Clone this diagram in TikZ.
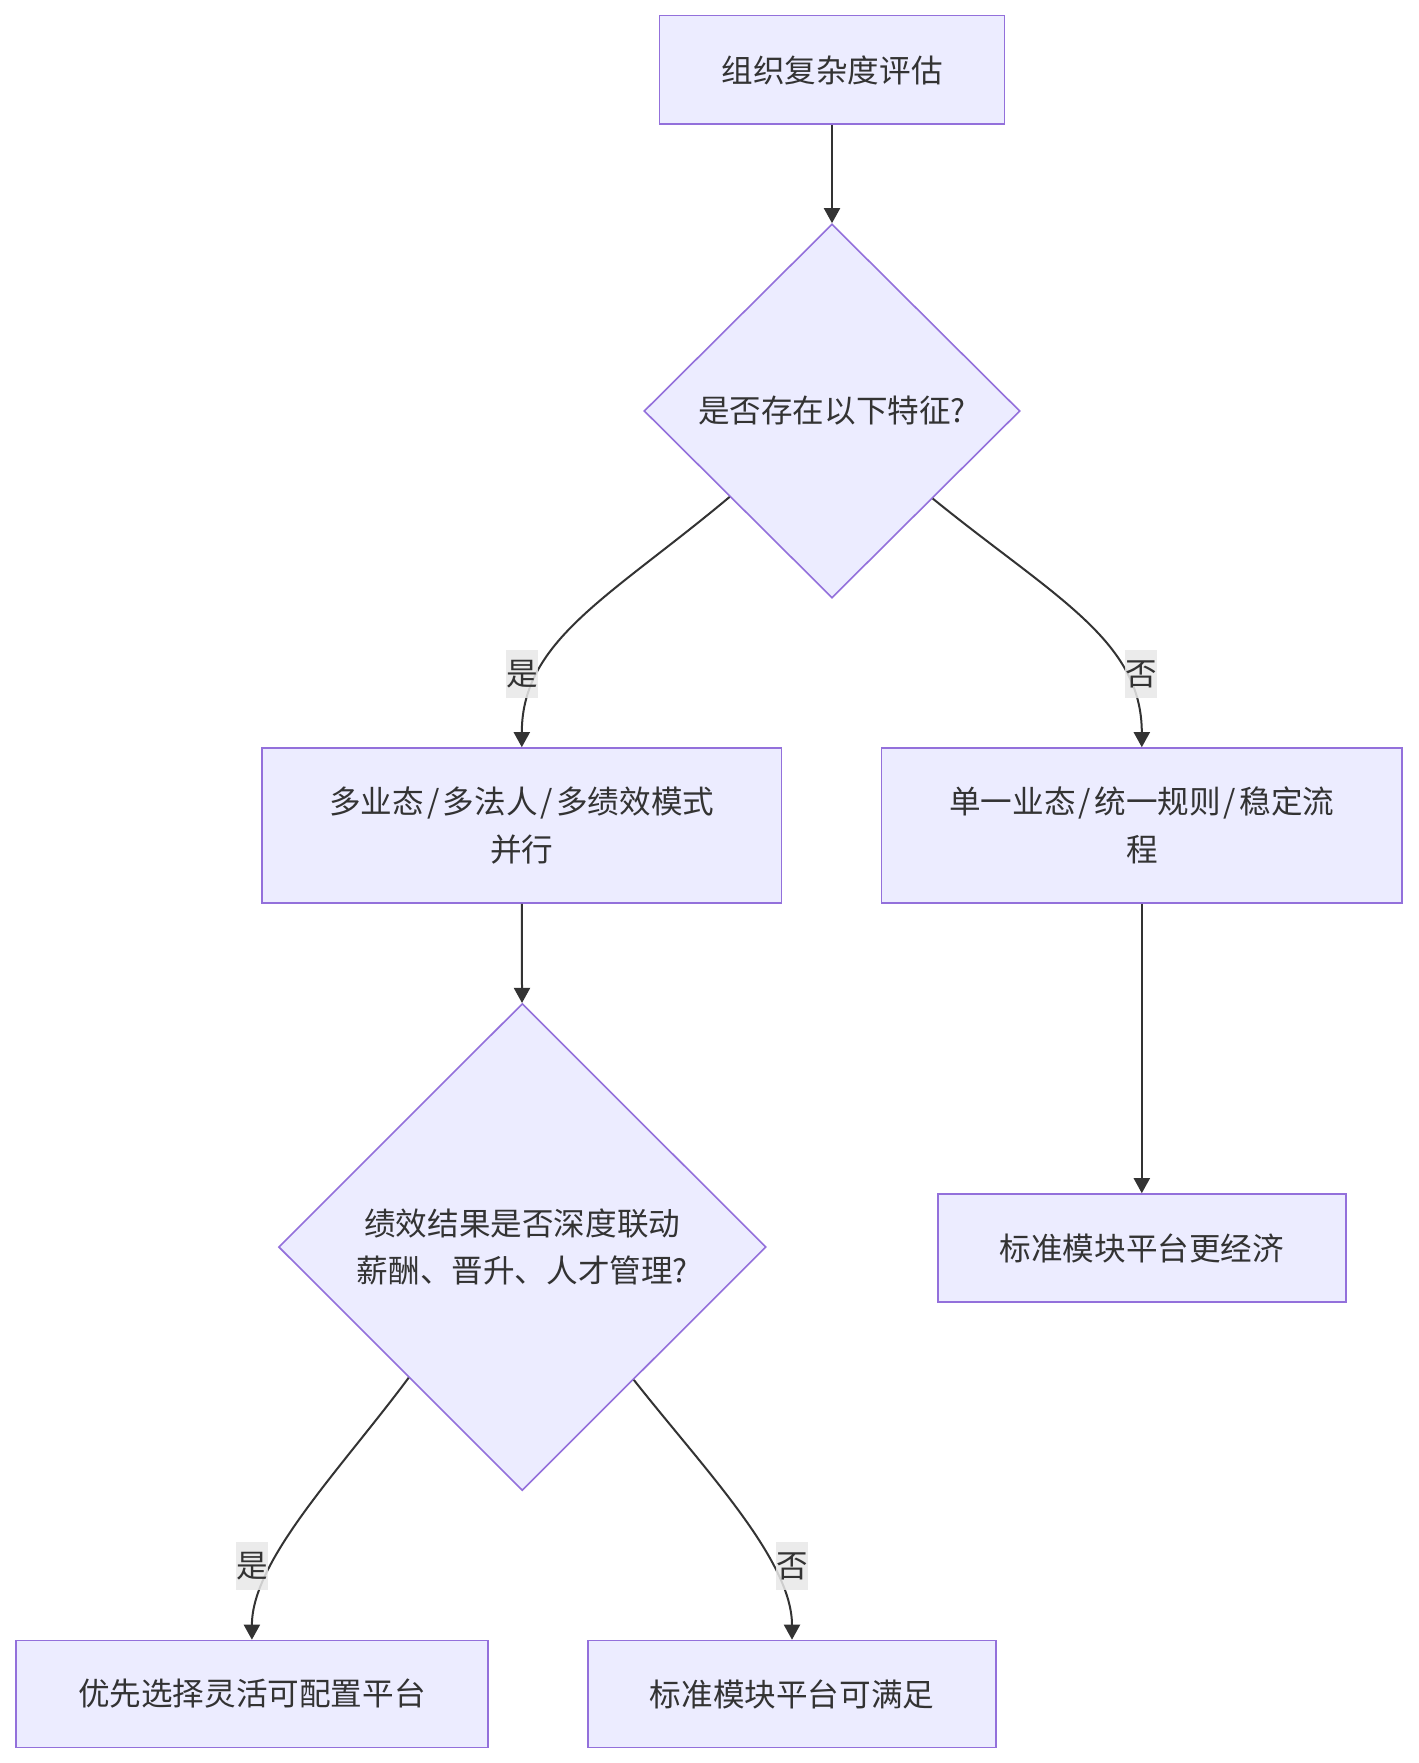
\documentclass[tikz,border=0pt]{standalone}
\usepackage{fontspec}
\newfontfamily\cjk{Noto Sans CJK SC}
\usetikzlibrary{shapes.geometric,arrows.meta}
\definecolor{nodefill}{HTML}{ECECFF}
\definecolor{nodeline}{HTML}{9370DB}
\definecolor{edgecol}{HTML}{333333}
\definecolor{labelbg}{HTML}{E8E8E8}
\newcommand\slashsep{\hspace{0.1em}/\hspace{0.1em}}
\begin{document}
\begin{tikzpicture}[x=1pt,y=-1pt,
 every node/.style={font=\cjk\fontsize{31.6}{47.5}\selectfont, text=edgecol},
 box/.style={draw=nodeline, fill=nodefill, line width=1.6pt, align=center, inner sep=0pt},
 decision/.style={diamond, draw=nodeline, fill=nodefill, line width=1.6pt, align=center, inner sep=0pt, aspect=1},
 flow/.style={draw=edgecol, line width=2pt, -{Triangle[width=16pt,length=15pt]}},
 elabel/.style={fill=labelbg, fill opacity=0.85, text opacity=1, inner sep=0pt, minimum width=32pt, minimum height=48pt}]

\fill[white] (0,0) rectangle (1418,1763);
\useasboundingbox (0,0) rectangle (1418,1763);

\node[box, minimum width=344.7pt, minimum height=108.6pt] (a) at (832,70) {组织复杂度评估};
\node[decision, minimum width=376pt, minimum height=374pt] (b) at (832,411) {是否存在以下特征?};
\node[box, minimum width=519.5pt, minimum height=155pt] (c) at (521.8,825.5) {多业态\slashsep 多法人\slashsep 多绩效模式\\并行};
\node[box, minimum width=520.4pt, minimum height=155pt] (d) at (1141.8,825.5) {单一业态\slashsep 统一规则\slashsep 稳定流\\程};
\node[decision, minimum width=487.5pt, minimum height=487pt] (e) at (522.3,1247) {绩效结果是否深度联动\\薪酬、晋升、人才管理?};
\node[box, minimum width=408pt, minimum height=108pt] (f) at (1141.8,1248) {标准模块平台更经济};
\node[box, minimum width=472pt, minimum height=107pt] (g) at (251.9,1694) {优先选择灵活可配置平台};
\node[box, minimum width=408pt, minimum height=107pt] (h) at (792,1694) {标准模块平台可满足};

\draw[flow] (a) -- (b);
\draw[flow] (b.220.5) .. controls (610,597) and (521.8,640) .. (c.north);
\draw[flow] (b.319.5) .. controls (1054,597) and (1141.8,640) .. (d.north);
\draw[flow] (c) -- (e);
\draw[flow] (d) -- (f);
\draw[flow] (e.229.7) .. controls (340,1470) and (251.9,1560) .. (g.north);
\draw[flow] (e.310.3) .. controls (705,1470) and (792,1560) .. (h.north);

\node[elabel] (l1) at (522,674) {是};
\node[elabel] (l2) at (1141.4,674) {否};
\node[elabel] (l3) at (251.9,1566) {是};
\node[elabel] (l4) at (792,1566) {否};
\end{tikzpicture}
\end{document}
